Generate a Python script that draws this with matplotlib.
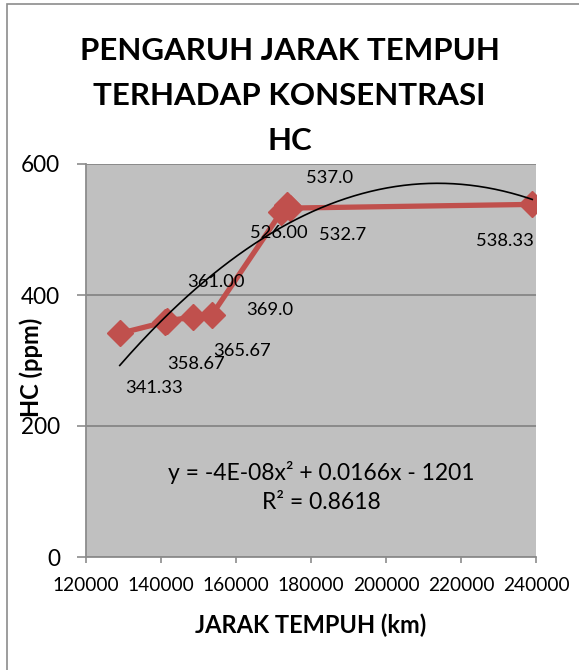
import numpy as np
import matplotlib.pyplot as plt
from matplotlib.patches import Rectangle

# data
jarak = [129000, 141000, 141500, 148500, 153500, 172000, 173500, 174500, 239000]
hc = [341.33, 358.67, 361.00, 365.67, 369.0, 526.00, 537.0, 532.7, 538.33]
labels = ["341.33", "358.67", "361.00", "365.67", "369.0", "526.00", "537.0", "532.7", "538.33"]
# label offsets (pixels) relative to each point
label_dx = [34, 31, 49, 49, 58, -2, 43, 52, -27]
label_dy = [-55, -42, 39, -34, 5, -21, 27, -27, -37]

x_ticks = [120000, 140000, 160000, 180000, 200000, 220000, 240000]
y_ticks = [0, 200, 400, 600]

plt.rcParams['font.family'] = ['Lato', 'DejaVu Sans']

W, H = 579, 670
fig = plt.figure(figsize=(W / 100, H / 100), dpi=100)
fig.patch.set_facecolor('white')

# chart area border (Excel style)
fig.patches.append(Rectangle((7 / W, -0.1), 1.2, 1 - 4 / H + 0.1, transform=fig.transFigure,
                             fill=False, edgecolor='#8c8c8c', linewidth=1.2))

ax = fig.add_axes([86 / W, 1 - 557 / H, 450 / W, 393 / H])
ax.set_facecolor('#c0c0c0')
ax.set_xlim(120000, 240000)
ax.set_ylim(0, 600)
ax.set_xticks(x_ticks)
ax.set_yticks(y_ticks)
ax.set_xticklabels([str(v) for v in x_ticks], fontsize=13.8)
ax.set_yticklabels([str(v) for v in y_ticks], fontsize=16.3)
ax.tick_params(axis='x', direction='out', length=4.3, width=1.2, color='#8c8c8c', pad=10)
ax.tick_params(axis='y', direction='out', length=6.5, width=1.2, color='#8c8c8c', pad=12)
ax.grid(axis='y', color='#868686', linewidth=1.3)
ax.set_axisbelow(True)
for s in ['top', 'right']:
    ax.spines[s].set_visible(False)
for s in ['left', 'bottom']:
    ax.spines[s].set_color('#8c8c8c')
    ax.spines[s].set_linewidth(1.3)

# series
ax.plot(jarak, hc, color='#c0504d', linewidth=3.8, marker='D', markersize=13, zorder=3)

# polynomial trendline (order 2)
coef = np.polyfit(jarak, hc, 2)
xs = np.linspace(min(jarak), max(jarak), 200)
ax.plot(xs, np.polyval(coef, xs), color='black', linewidth=1.2, zorder=4)

for x, y, t, dx, dy in zip(jarak, hc, labels, label_dx, label_dy):
    ax.annotate(t, (x, y), xytext=(dx, dy), textcoords='offset pixels',
                ha='center', va='center', fontsize=13.2, color='black', zorder=5)

ax.text(0.523, 0.215, "y = -4E-08x² + 0.0166x - 1201", transform=ax.transAxes,
        ha='center', va='center', fontsize=16.5)
ax.text(0.523, 0.138, "R² = 0.8618", transform=ax.transAxes,
        ha='center', va='center', fontsize=16.5)

fig.text(0.5, 1 - 51 / H, "PENGARUH JARAK TEMPUH", ha='center', va='center',
         fontsize=22.5, fontweight='bold')
fig.text(0.5, 1 - 96 / H, "TERHADAP KONSENTRASI", ha='center', va='center',
         fontsize=22.5, fontweight='bold')
fig.text(0.5, 1 - 141 / H, "HC", ha='center', va='center',
         fontsize=22.5, fontweight='bold')

fig.text(311 / W, 1 - 625 / H, "JARAK TEMPUH (km)", ha='center', va='center',
         fontsize=17, fontweight='bold')
fig.text(31 / W, 1 - 367 / H, "HC (ppm)", ha='center', va='center', rotation=90,
         fontsize=17, fontweight='bold')

fig.savefig('out.png', dpi=100)
